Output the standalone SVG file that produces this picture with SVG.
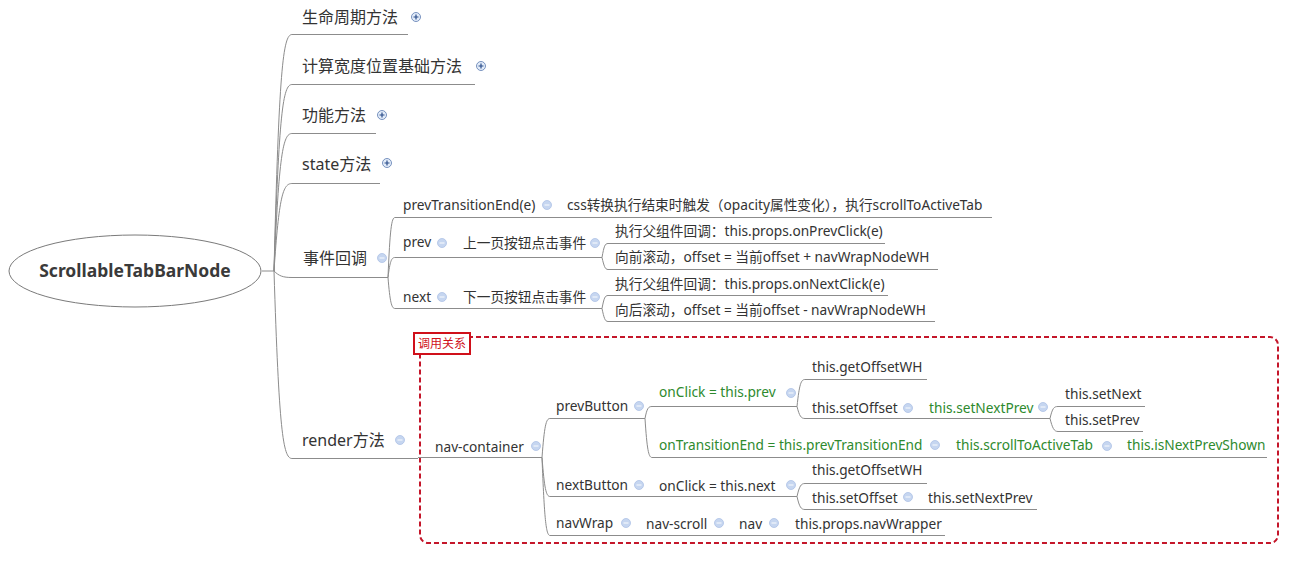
<svg xmlns="http://www.w3.org/2000/svg" xmlns:xlink="http://www.w3.org/1999/xlink" width="1296" height="571" viewBox="0 0 1296 571">
<style>
.ln{fill:none;stroke:#8c8c8c;stroke-width:1}
.ul{stroke:#8c8c8c;stroke-width:1}
text{font-family:"Noto Sans","Noto Sans CJK SC",sans-serif;fill:#333}
.t16{font-size:16px}
.t13{font-size:13.7px}
.gr{fill:#2e8a2e}
.root{font-size:17.5px;font-weight:bold;fill:#3a3a3a}
.lbl{font-size:12px;fill:#d0101a}
</style>
<defs>
<g id="minus"><circle r="4.5" fill="#c6d6f0" stroke="#adc2e6" stroke-width="0.8"/><path d="M-2.5 0H2.5" stroke="#f2f6fc" stroke-width="1.2"/></g>
<g id="plus"><circle r="4.5" fill="#e3ecf9" stroke="#6a87b8" stroke-width="0.9"/><path d="M-2.5 0H2.5M0 -2.5V2.5" stroke="#2a4d8a" stroke-width="1.2"/></g>
</defs>
<rect width="1296" height="571" fill="#ffffff"/>

<g id="connectors">
<path class="ln" d="M262,271H274"/>
<path class="ln" d="M274,271C279,70 283,34.5 292,34.5"/>
<path class="ln" d="M274,271C279,112 283,84.5 292,84.5"/>
<path class="ln" d="M274,271C279,154 283,133.5 292,133.5"/>
<path class="ln" d="M274,271C279,196 283,183.5 292,183.5"/>
<path class="ln" d="M274,271C279,276 283,277.5 292,277.5"/>
<path class="ln" d="M274,271C279,430 283,458.5 292,458.5"/>
<path class="ln" d="M388,277.5C390,229 391.5,217.5 395,217.5"/>
<path class="ln" d="M388,277.5C390,261 391.5,257.5 395,257.5"/>
<path class="ln" d="M388,277.5C390,302 391.5,308.5 395,308.5"/>
<path class="ln" d="M602,257.5C604,246 605,243.5 608,243.5"/>
<path class="ln" d="M602,257.5C604,266 605,269.5 608,269.5"/>
<path class="ln" d="M602,308.5C604,298 605,295.5 608,295.5"/>
<path class="ln" d="M602,308.5C604,318 605,321.5 608,321.5"/>
<path class="ln" d="M542,457.5C544.4,426 546,418.5 550,418.5"/>
<path class="ln" d="M542,457.5C544.4,488 546,496.5 550,496.5"/>
<path class="ln" d="M542,457.5C544.4,519 546,535.5 550,535.5"/>
<path class="ln" d="M645,418.5C647,408 648.5,406.5 652,406.5"/>
<path class="ln" d="M645,418.5C647,449 648.5,457.5 652,457.5"/>
<path class="ln" d="M797,406.5C799.4,384 801,379.5 805,379.5"/>
<path class="ln" d="M797,406.5C799.4,416 801,418.5 805,418.5"/>
<path class="ln" d="M1050,418.5C1052.4,408 1054,406.5 1058,406.5"/>
<path class="ln" d="M1050,418.5C1052.4,428 1054,431.5 1058,431.5"/>
<path class="ln" d="M797,496.5C799.4,486 801,483.5 805,483.5"/>
<path class="ln" d="M797,496.5C799.4,507 801,509.5 805,509.5"/>
</g>

<g id="root">
<ellipse cx="135" cy="271" rx="126" ry="36" fill="#ffffff" stroke="#7a7a7a" stroke-width="1"/>
<text class="root" x="135" y="277" text-anchor="middle">ScrollableTabBarNode</text>
</g>

<g id="n-lifecycle"><line class="ul" x1="292" y1="34.5" x2="408" y2="34.5"/><text class="t16" x="302" y="23">生命周期方法</text><use href="#plus" x="416" y="17"/></g>
<g id="n-calc"><line class="ul" x1="292" y1="84.5" x2="475" y2="84.5"/><text class="t16" x="302" y="72">计算宽度位置基础方法</text><use href="#plus" x="481" y="66"/></g>
<g id="n-func"><line class="ul" x1="292" y1="133.5" x2="376" y2="133.5"/><text class="t16" x="302" y="121">功能方法</text><use href="#plus" x="382" y="115"/></g>
<g id="n-state"><line class="ul" x1="292" y1="183.5" x2="380" y2="183.5"/><text class="t16" x="302" y="170">state方法</text><use href="#plus" x="387" y="163"/></g>
<g id="n-event"><line class="ul" x1="292" y1="277.5" x2="388" y2="277.5"/><text class="t16" x="303" y="264">事件回调</text><use href="#minus" x="382" y="258"/></g>
<g id="n-render"><line class="ul" x1="292" y1="458.5" x2="418" y2="458.5"/><text class="t16" x="302" y="446">render方法</text><use href="#minus" x="400" y="440"/></g>

<g id="e-prevTransitionEnd"><line class="ul" x1="395" y1="217.5" x2="560" y2="217.5"/><text class="t13" x="403" y="210">prevTransitionEnd(e)</text><use href="#minus" x="547" y="205"/></g>
<g id="e-css"><line class="ul" x1="560" y1="217.5" x2="992" y2="217.5"/><text class="t13" x="567" y="210">css转换执行结束时触发（opacity属性变化），执行scrollToActiveTab</text></g>
<g id="e-prev"><line class="ul" x1="395" y1="257.5" x2="455" y2="257.5"/><text class="t13" x="403" y="247">prev</text><use href="#minus" x="442" y="243"/></g>
<g id="e-prev-desc"><line class="ul" x1="455" y1="257.5" x2="602" y2="257.5"/><text class="t13" x="463" y="248">上一页按钮点击事件</text><use href="#minus" x="595" y="243"/></g>
<g id="e-prev-1"><line class="ul" x1="608" y1="243.5" x2="885" y2="243.5"/><text class="t13" x="615" y="236">执行父组件回调：this.props.onPrevClick(e)</text></g>
<g id="e-prev-2"><line class="ul" x1="608" y1="269.5" x2="938" y2="269.5"/><text class="t13" x="615" y="262">向前滚动，offset = 当前offset + navWrapNodeWH</text></g>
<g id="e-next"><line class="ul" x1="395" y1="308.5" x2="455" y2="308.5"/><text class="t13" x="403" y="302">next</text><use href="#minus" x="442" y="297"/></g>
<g id="e-next-desc"><line class="ul" x1="455" y1="308.5" x2="602" y2="308.5"/><text class="t13" x="463" y="302">下一页按钮点击事件</text><use href="#minus" x="595" y="297"/></g>
<g id="e-next-1"><line class="ul" x1="608" y1="295.5" x2="888" y2="295.5"/><text class="t13" x="615" y="289">执行父组件回调：this.props.onNextClick(e)</text></g>
<g id="e-next-2"><line class="ul" x1="608" y1="321.5" x2="935" y2="321.5"/><text class="t13" x="615" y="315">向后滚动，offset = 当前offset - navWrapNodeWH</text></g>

<g id="boundary">
<rect x="420" y="337" width="858" height="206" rx="8" ry="8" fill="none" stroke="#c4162a" stroke-width="2" stroke-dasharray="5 3"/>
<rect x="414" y="333" width="56" height="21" fill="#ffffff" stroke="#d0101a" stroke-width="2"/>
<text class="lbl" x="418" y="348">调用关系</text>
</g>

<g id="r-navcontainer"><line class="ul" x1="418" y1="457.5" x2="542" y2="457.5"/><text class="t13" x="435" y="452">nav-container</text><use href="#minus" x="536" y="446"/></g>
<g id="r-prevButton"><line class="ul" x1="550" y1="418.5" x2="645" y2="418.5"/><text class="t13" x="556" y="411">prevButton</text><use href="#minus" x="639" y="406"/></g>
<g id="r-onClickPrev"><line class="ul" x1="652" y1="406.5" x2="797" y2="406.5"/><text class="t13 gr" x="659" y="397">onClick = this.prev</text><use href="#minus" x="791" y="393"/></g>
<g id="r-getOffsetWH1"><line class="ul" x1="805" y1="379.5" x2="927" y2="379.5"/><text class="t13" x="812" y="372">this.getOffsetWH</text></g>
<g id="r-setOffset1"><line class="ul" x1="805" y1="418.5" x2="922" y2="418.5"/><text class="t13" x="812" y="413">this.setOffset</text><use href="#minus" x="908" y="408"/></g>
<g id="r-setNextPrev1"><line class="ul" x1="922" y1="418.5" x2="1050" y2="418.5"/><text class="t13 gr" x="929" y="413">this.setNextPrev</text><use href="#minus" x="1043" y="407"/></g>
<g id="r-setNext"><line class="ul" x1="1058" y1="406.5" x2="1145" y2="406.5"/><text class="t13" x="1065" y="399">this.setNext</text></g>
<g id="r-setPrev"><line class="ul" x1="1058" y1="431.5" x2="1143" y2="431.5"/><text class="t13" x="1065" y="425">this.setPrev</text></g>
<g id="r-onTransitionEnd"><line class="ul" x1="652" y1="457.5" x2="945" y2="457.5"/><text class="t13 gr" x="659" y="450">onTransitionEnd = this.prevTransitionEnd</text><use href="#minus" x="935" y="445"/></g>
<g id="r-scrollToActiveTab"><line class="ul" x1="945" y1="457.5" x2="1118" y2="457.5"/><text class="t13 gr" x="956" y="450">this.scrollToActiveTab</text><use href="#minus" x="1107" y="446"/></g>
<g id="r-isNextPrevShown"><line class="ul" x1="1118" y1="457.5" x2="1267" y2="457.5"/><text class="t13 gr" x="1127" y="450">this.isNextPrevShown</text></g>
<g id="r-nextButton"><line class="ul" x1="550" y1="496.5" x2="650" y2="496.5"/><text class="t13" x="556" y="490">nextButton</text><use href="#minus" x="639" y="485"/></g>
<g id="r-onClickNext"><line class="ul" x1="650" y1="496.5" x2="797" y2="496.5"/><text class="t13" x="659" y="491">onClick = this.next</text><use href="#minus" x="791" y="485"/></g>
<g id="r-getOffsetWH2"><line class="ul" x1="805" y1="483.5" x2="927" y2="483.5"/><text class="t13" x="812" y="475">this.getOffsetWH</text></g>
<g id="r-setOffset2"><line class="ul" x1="805" y1="509.5" x2="920" y2="509.5"/><text class="t13" x="812" y="503">this.setOffset</text><use href="#minus" x="908" y="497"/></g>
<g id="r-setNextPrev2"><line class="ul" x1="920" y1="509.5" x2="1037" y2="509.5"/><text class="t13" x="928" y="503">this.setNextPrev</text></g>
<g id="r-navWrap"><line class="ul" x1="550" y1="535.5" x2="636" y2="535.5"/><text class="t13" x="556" y="528">navWrap</text><use href="#minus" x="626" y="523"/></g>
<g id="r-navScroll"><line class="ul" x1="636" y1="535.5" x2="730" y2="535.5"/><text class="t13" x="646" y="529">nav-scroll</text><use href="#minus" x="719" y="523"/></g>
<g id="r-nav"><line class="ul" x1="730" y1="535.5" x2="785" y2="535.5"/><text class="t13" x="739" y="529">nav</text><use href="#minus" x="774" y="523"/></g>
<g id="r-navWrapper"><line class="ul" x1="785" y1="535.5" x2="945" y2="535.5"/><text class="t13" x="795" y="529">this.props.navWrapper</text></g>
</svg>
